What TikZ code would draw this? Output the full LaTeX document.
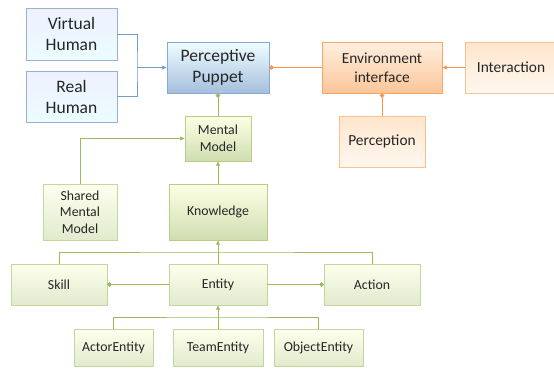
\documentclass[tikz,border=0pt]{standalone}
\usepackage{fontspec}
\setmainfont{Carlito}
\usetikzlibrary{arrows.meta,shadows}

\definecolor{blueline}{HTML}{4F81BD}
\definecolor{blueedge}{HTML}{95B3D7}
\definecolor{orangeline}{HTML}{F79646}
\definecolor{orangeedge}{HTML}{FAC090}
\definecolor{greenline}{HTML}{9BBB59}
\definecolor{greenedge}{HTML}{C3D69B}

\begin{document}
\begin{tikzpicture}[x=1pt, y=-1pt,
	box/.style={rectangle, inner sep=0pt, align=center, text=black!85,
		drop shadow={opacity=0.25, shadow xshift=1pt, shadow yshift=-1pt}},
	bluebox/.style={box, draw=blueedge, top color=blue!6, bottom color=blue!14!cyan!8,
		font=\fontsize{17.5}{21}\selectfont},
	puppetbox/.style={box, draw=blueedge!80!blueline, top color=blue!8!cyan!6, bottom color=blueedge!85,
		font=\fontsize{17.5}{21}\selectfont},
	envbox/.style={box, draw=orangeline!85, top color=orange!12, bottom color=orangeline!55,
		font=\fontsize{15.4}{19}\selectfont},
	orangebox/.style={box, draw=orangeedge, top color=orange!20, bottom color=orange!6,
		font=\fontsize{15.4}{19}\selectfont},
	greenbox/.style={box, draw=greenedge, top color=green!5!yellow!7, bottom color=greenedge!50,
		font=\fontsize{13.8}{16.5}\selectfont},
	mentalbox/.style={box, draw=greenedge!70!greenline, top color=green!6!yellow!10, bottom color=greenedge!80,
		font=\fontsize{13.8}{16.5}\selectfont},
	bluelink/.style={draw=blueline!80, line width=0.8pt},
	orangelink/.style={draw=orangeline, line width=0.8pt},
	greenlink/.style={draw=greenline, line width=0.8pt},
	tip/.style={-{Latex[length=4.5pt,width=4.5pt]}},
	dot/.style={-{Circle[length=4.5pt]}}]
	\useasboundingbox (0,0) rectangle (554,370);
	\fill[white] (0,0) rectangle (554,370);

	% humans and puppet
	\node[bluebox, minimum width=91pt, minimum height=52pt] (virtual) at (71.5,34) {Virtual\\Human};
	\node[bluebox, minimum width=91pt, minimum height=51pt] (real) at (71.5,96.5) {Real\\Human};
	\node[puppetbox, minimum width=102pt, minimum height=51pt] (puppet) at (218,67.5) {Perceptive\\Puppet};

	% environment
	\node[envbox, minimum width=120pt, minimum height=51pt] (env) at (382,67.5) {Environment\\interface};
	\node[orangebox, minimum width=92pt, minimum height=51pt] (interaction) at (511,67.5) {Interaction};
	\node[orangebox, minimum width=86pt, minimum height=51pt] (perception) at (382,141.5) {Perception};

	% mental model and knowledge
	\node[mentalbox, minimum width=66pt, minimum height=45pt] (mental) at (218,138.5) {Mental\\Model};
	\node[greenbox, minimum width=74pt, minimum height=56pt] (shared) at (80,212) {Shared\\Mental\\Model};
	\node[mentalbox, minimum width=98pt, minimum height=56pt] (knowledge) at (218,212) {Knowledge};

	\node[greenbox, minimum width=96pt, minimum height=41pt] (skill) at (59,284.5) {Skill};
	\node[greenbox, minimum width=98pt, minimum height=41pt] (entity) at (218,284.5) {Entity};
	\node[greenbox, minimum width=96pt, minimum height=41pt] (action) at (372,284.5) {Action};

	\node[greenbox, minimum width=79pt, minimum height=37pt] (actor) at (113.5,347.5) {ActorEntity};
	\node[greenbox, minimum width=90pt, minimum height=37pt] (team) at (218,347.5) {TeamEntity};
	\node[greenbox, minimum width=89pt, minimum height=37pt] (object) at (318.5,347.5) {ObjectEntity};

	\coordinate (hbus) at (137,67.5);
	\coordinate (kbus) at (218,252);
	\coordinate (ebus) at (218,317);

	% links
	\draw[bluelink] (virtual.east) -| (hbus) |- (real.east);
	\draw[bluelink, tip] (hbus) -- (puppet.west);
	\draw[orangelink, dot] (env.west) -- (puppet.east);
	\draw[orangelink, tip] (interaction.west) -- (env.east);
	\draw[orangelink, dot] (perception.north) -- (env.south);
	\draw[greenlink, dot] (mental.north) -- (puppet.south);
	\draw[greenlink, tip] (shared.north) |- (mental.west);
	\draw[greenlink, tip] (knowledge.north) -- (mental.south);
	\draw[greenlink] (skill.north) |- (kbus) -| (action.north);
	\draw[greenlink, tip] (entity.north) -- (knowledge.south);
	\draw[greenlink, dot] (entity.west) -- (skill.east);
	\draw[greenlink, dot] (entity.east) -- (action.west);
	\draw[greenlink] (actor.north) |- (ebus) -| (object.north);
	\draw[greenlink, tip] (team.north) -- (entity.south);
\end{tikzpicture}
\end{document}
